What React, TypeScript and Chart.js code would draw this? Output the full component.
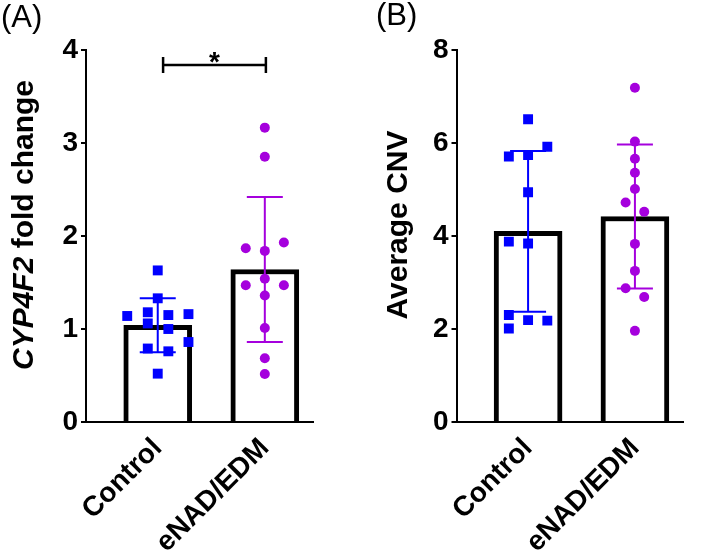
import React, { useEffect, useRef } from 'react';
import { Chart, registerables } from 'chart.js';

Chart.register(...registerables);

// ---------- data ----------
const categories = ['Control', 'eNAD/EDM'];
const groupColors = ['#0000FF', '#A500DD'];

// Panel A: CYP4F2 fold change
const aControlValues = [1.63, 1.33, 1.14, 1.18, 1.15, 1.16, 1.06, 1.0, 0.86, 0.79, 0.76, 0.52];
const aControlJitter = [0, 0, -0.285, -0.093, 0.099, 0.287, -0.093, 0.099, 0.287, -0.093, 0.099, 0];
const aTreatValues = [3.165, 2.853, 1.868, 1.93, 1.84, 1.47, 1.47, 1.54, 1.36, 1.01, 0.685, 0.516];
const aTreatJitter = [0, 0, -0.178, 0.178, 0, -0.178, 0.178, 0, 0, 0, 0, 0];
const aMeans = [1.04, 1.64];
const aSD = [0.29, 0.78];
const aYTicks = [0, 1, 2, 3, 4];

// Panel B: Average CNV
const bControlValues = [6.51, 5.92, 5.71, 5.74, 4.94, 3.88, 3.84, 2.3, 2.19, 2.18, 2.01];
const bControlJitter = [0, 0.18, -0.18, 0, 0, -0.18, 0, -0.18, 0, 0.18, -0.18];
const bTreatValues = [7.19, 6.03, 5.66, 5.36, 5.01, 4.72, 4.52, 3.83, 3.25, 2.875, 2.69, 1.96];
const bTreatJitter = [0, 0, 0, 0, 0, -0.087, 0.087, 0, 0, -0.087, 0.087, 0];
const bMeans = [4.1, 4.42];
const bSD = [1.73, 1.55];
const bYTicks = [0, 2, 4, 6, 8];

const FONT = '"Liberation Sans", Arial, Helvetica, sans-serif';
const W = 709;
const H = 559;

type PanelSpec = {
  tag: string;
  titleItalic: string;
  titleRest: string;
  controlValues: number[];
  controlJitter: number[];
  treatValues: number[];
  treatJitter: number[];
  means: number[];
  sd: number[];
  yTicks: number[];
  padLeft: number;
  yWidth: number;
  padRight: number;
  titleX: number;
  tagX: number;
  tagY: number;
  sig: boolean;
};

const panels: PanelSpec[] = [
  {
    tag: '(A)',
    titleItalic: 'CYP4F2',
    titleRest: ' fold change',
    controlValues: aControlValues,
    controlJitter: aControlJitter,
    treatValues: aTreatValues,
    treatJitter: aTreatJitter,
    means: aMeans,
    sd: aSD,
    yTicks: aYTicks,
    padLeft: 0,
    yWidth: 86,
    padRight: W - 313,
    titleX: 25,
    tagX: 1,
    tagY: 3,
    sig: true,
  },
  {
    tag: '(B)',
    titleItalic: '',
    titleRest: 'Average CNV',
    controlValues: bControlValues,
    controlJitter: bControlJitter,
    treatValues: bTreatValues,
    treatJitter: bTreatJitter,
    means: bMeans,
    sd: bSD,
    yTicks: bYTicks,
    padLeft: 355,
    yWidth: 101.5,
    padRight: W - 683,
    titleX: 399,
    tagX: 376,
    tagY: 1,
    sig: false,
  },
];

function buildChart(canvas: HTMLCanvasElement, p: PanelSpec) {
  const yMax = p.yTicks[p.yTicks.length - 1];
  const extras = {
    id: 'extras' + p.tag,
    afterDatasetDraw(chart: any, args: any) {
      if (args.index !== 0) return;
      const ctx = chart.ctx;
      const xs = chart.scales.x;
      const ys = chart.scales.y;
      p.means.forEach((m, i) => {
        const x = xs.getPixelForValue(i);
        const yt = ys.getPixelForValue(m + p.sd[i]);
        const yb = ys.getPixelForValue(m - p.sd[i]);
        ctx.save();
        ctx.strokeStyle = groupColors[i];
        ctx.lineWidth = 2;
        ctx.beginPath();
        ctx.moveTo(x, yt);
        ctx.lineTo(x, yb);
        ctx.moveTo(x - 18, yt);
        ctx.lineTo(x + 18, yt);
        ctx.moveTo(x - 18, yb);
        ctx.lineTo(x + 18, yb);
        ctx.stroke();
        ctx.restore();
      });
    },
    afterDraw(chart: any) {
      const ctx = chart.ctx;
      const area = chart.chartArea;
      ctx.save();
      // panel tag
      ctx.fillStyle = '#000';
      ctx.font = `31px ${FONT}`;
      ctx.textBaseline = 'top';
      ctx.textAlign = 'left';
      ctx.fillText(p.tag, p.tagX, p.tagY);
      // y title (mixed italic)
      const fs = 30;
      const fItal = `italic bold ${fs}px ${FONT}`;
      const fBold = `bold ${fs}px ${FONT}`;
      ctx.font = fItal;
      const w1 = p.titleItalic ? ctx.measureText(p.titleItalic).width : 0;
      ctx.font = fBold;
      const w2 = ctx.measureText(p.titleRest).width;
      const cy = (area.top + area.bottom) / 2 - 11;
      ctx.translate(p.titleX, cy);
      ctx.rotate(-Math.PI / 2);
      ctx.textBaseline = 'middle';
      let sx = -(w1 + w2) / 2;
      if (p.titleItalic) {
        ctx.font = fItal;
        ctx.fillText(p.titleItalic, sx, 0);
        sx += w1;
      }
      ctx.font = fBold;
      ctx.fillText(p.titleRest, sx, 0);
      ctx.restore();

      if (p.sig) {
        const xs = chart.scales.x;
        const ys = chart.scales.y;
        const x1 = xs.getPixelForValue(0.05);
        const x2 = xs.getPixelForValue(1.01);
        const y = ys.getPixelForValue(3.84);
        ctx.save();
        ctx.strokeStyle = '#000';
        ctx.lineWidth = 2.5;
        ctx.beginPath();
        ctx.moveTo(x1, y);
        ctx.lineTo(x2, y);
        ctx.moveTo(x1, y - 8);
        ctx.lineTo(x1, y + 8);
        ctx.moveTo(x2, y - 8);
        ctx.lineTo(x2, y + 8);
        ctx.stroke();
        ctx.fillStyle = '#000';
        ctx.font = `bold 28px ${FONT}`;
        ctx.textAlign = 'center';
        ctx.textBaseline = 'alphabetic';
        ctx.fillText('*', (x1 + x2) / 2, y + 6);
        ctx.restore();
      }
    },
  };

  return new Chart(canvas, {
    type: 'bar',
    data: {
      datasets: [
        {
          type: 'bar',
          data: p.means.map((m, i) => ({ x: i, y: m })) as any,
          backgroundColor: '#FFFFFF',
          borderColor: '#000000',
          borderWidth: 5,
          borderSkipped: 'start',
          barThickness: 68,
          order: 2,
        } as any,
        {
          type: 'scatter',
          data: p.controlValues.map((v, i) => ({ x: p.controlJitter[i], y: v })),
          pointStyle: 'rect',
          pointRadius: 7,
          pointBackgroundColor: groupColors[0],
          pointBorderWidth: 0,
          order: 1,
        } as any,
        {
          type: 'scatter',
          data: p.treatValues.map((v, i) => ({ x: 1 + p.treatJitter[i], y: v })),
          pointStyle: 'circle',
          pointRadius: 5,
          pointBackgroundColor: groupColors[1],
          pointBorderWidth: 0,
          order: 1,
        } as any,
      ],
    },
    options: {
      animation: false,
      responsive: false,
      devicePixelRatio: 1,
      events: [],
      layout: { padding: { left: p.padLeft, right: p.padRight, top: 50, bottom: 0 } },
      plugins: { legend: { display: false }, tooltip: { enabled: false } },
      scales: {
        x: {
          type: 'linear',
          offset: false,
          min: -0.67,
          max: 1.45,
          afterBuildTicks: (scale: any) => {
            scale.ticks = categories.map((_, i) => ({ value: i }));
          },
          afterFit: (scale: any) => {
            scale.height = H - 422;
            scale.paddingLeft = 0;
            scale.paddingRight = 0;
          },
          ticks: {
            autoSkip: false,
            minRotation: 45,
            maxRotation: 45,
            padding: 10,
            color: '#000',
            font: { family: FONT, size: 28, weight: 'bold' },
            callback: (v: any) => categories[Math.round(Number(v))] ?? '',
          },
          grid: { display: true, offset: false, drawOnChartArea: false, drawTicks: false, color: 'rgba(0,0,0,0)' },
          border: { display: true, color: '#000', width: 2 },
        },
        y: {
          type: 'linear',
          min: 0,
          max: yMax,
          afterBuildTicks: (scale: any) => {
            scale.ticks = p.yTicks.map((v) => ({ value: v }));
          },
          afterFit: (scale: any) => {
            scale.width = p.yWidth;
            scale.paddingTop = 0;
            scale.paddingBottom = 0;
          },
          ticks: {
            padding: 3,
            color: '#000',
            font: { family: FONT, size: 28, weight: 'bold' },
          },
          grid: {
            display: true,
            drawOnChartArea: false,
            drawTicks: true,
            tickLength: 5,
            color: '#000',
            lineWidth: 2,
          },
          border: { display: true, color: '#000', width: 2 },
        },
      },
    } as any,
    plugins: [extras as any],
  });
}

function Panel({ spec }: { spec: PanelSpec }) {
  const ref = useRef<HTMLCanvasElement | null>(null);
  useEffect(() => {
    if (!ref.current) return;
    const chart = buildChart(ref.current, spec);
    return () => chart.destroy();
  }, [spec]);
  return (
    <canvas
      ref={ref}
      width={W}
      height={H}
      style={{ position: 'absolute', left: 0, top: 0, width: W, height: H, pointerEvents: 'none' }}
    />
  );
}

export default function App() {
  return (
    <div style={{ position: 'fixed', left: 0, top: 0, width: W, height: H, background: '#fff', overflow: 'hidden' }}>
      {panels.map((p) => (
        <Panel key={p.tag} spec={p} />
      ))}
    </div>
  );
}
